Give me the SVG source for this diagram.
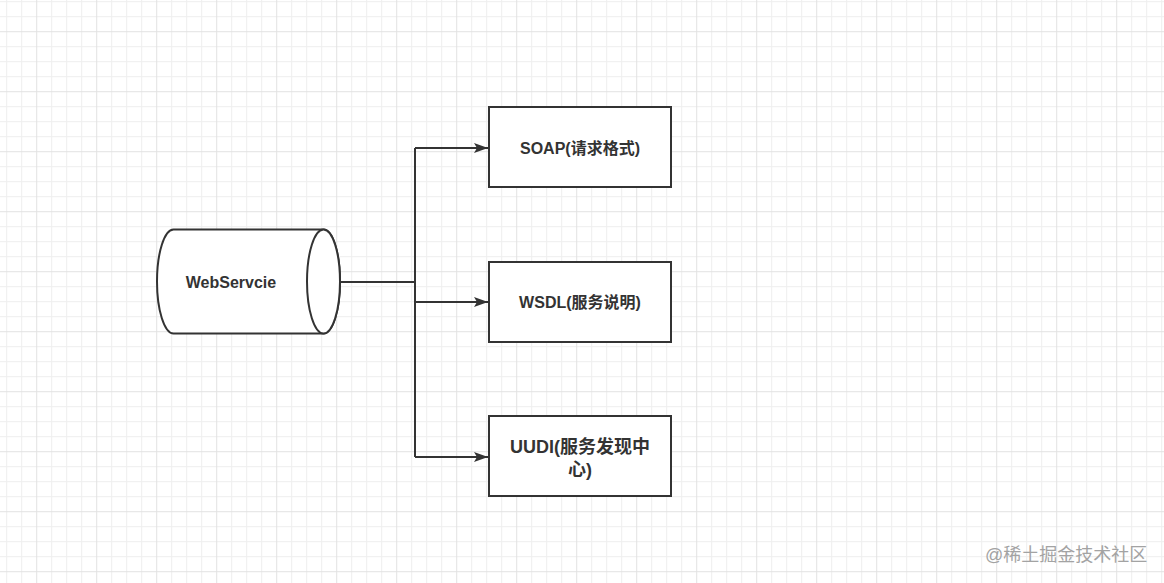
<svg xmlns="http://www.w3.org/2000/svg" width="1164" height="583" viewBox="0 0 1164 583">
  <defs>
    <pattern id="grid" patternUnits="userSpaceOnUse" x="-23.8" y="-28.8" width="60" height="60">
      <rect x="15" y="0" width="1" height="60" fill="#eeeeee"/>
      <rect x="30" y="0" width="1" height="60" fill="#eeeeee"/>
      <rect x="45" y="0" width="1" height="60" fill="#eeeeee"/>
      <rect x="0" y="15" width="60" height="1" fill="#eeeeee"/>
      <rect x="0" y="30" width="60" height="1" fill="#eeeeee"/>
      <rect x="0" y="45" width="60" height="1" fill="#eeeeee"/>
      <rect x="0" y="0" width="1" height="60" fill="#e2e2e2"/>
      <rect x="0" y="0" width="60" height="1" fill="#e2e2e2"/>
    </pattern>
    <marker id="arrow" markerUnits="userSpaceOnUse" markerWidth="16" markerHeight="12" refX="14" refY="5" orient="auto" viewBox="0 0 16 10">
      <path d="M0,0 L14,5 L0,10 L3,5 Z" fill="#333333"/>
    </marker>
    <style>
      .shape { fill: #ffffff; stroke: #333333; stroke-width: 2; }
      .edge { fill: none; stroke: #333333; stroke-width: 2; }
      .label { font-family: "Liberation Sans", "Noto Sans CJK SC", sans-serif; font-size: 16px; font-weight: bold; fill: #333333; text-anchor: middle; }
      .big { font-size: 18px; }
      .wm { font-family: "Liberation Sans", "Noto Sans CJK SC", sans-serif; font-size: 18px; fill: #a3a3a3; }
    </style>
  </defs>
  <rect x="0" y="0" width="1164" height="583" fill="#ffffff"/>
  <rect x="0" y="0" width="1164" height="583" fill="url(#grid)"/>

  <g id="connectors">
    <path class="edge" d="M341,282 L415,282"/>
    <path class="edge" d="M415,148 L415,457"/>
    <path class="edge" d="M415,148 L488,148" marker-end="url(#arrow)"/>
    <path class="edge" d="M415,302 L488,302" marker-end="url(#arrow)"/>
    <path class="edge" d="M415,457 L488,457" marker-end="url(#arrow)"/>
  </g>

  <g id="webservice">
    <path class="shape" d="M173.5,229.5 L323.5,229.5 A16.5,52 0 0 1 323.5,333.5 L173.5,333.5 A16.5,52 0 0 1 173.5,229.5 Z"/>
    <ellipse class="shape" cx="323.5" cy="281.5" rx="16.5" ry="52"/>
    <text class="label" x="231" y="288">WebServcie</text>
  </g>

  <g id="soap">
    <rect class="shape" x="489" y="107" width="182" height="80"/>
    <text class="label" x="580" y="154">SOAP(请求格式)</text>
  </g>

  <g id="wsdl">
    <rect class="shape" x="489" y="262" width="182" height="80"/>
    <text class="label" x="580" y="308">WSDL(服务说明)</text>
  </g>

  <g id="uudi">
    <rect class="shape" x="489" y="416" width="182" height="80"/>
    <text class="label big" x="580" y="453">UUDI(服务发现中</text>
    <text class="label big" x="580" y="476">心)</text>
  </g>

  <text class="wm" x="985" y="561">@稀土掘金技术社区</text>
</svg>
